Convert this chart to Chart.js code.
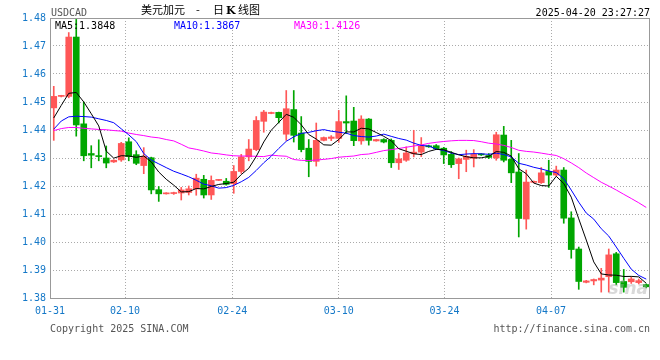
<!DOCTYPE html>
<html>
<head>
<meta charset="utf-8">
<script src="https://cdn.jsdelivr.net/npm/chart.js@4/dist/chart.umd.min.js"></script>
<style>
  html, body { margin: 0; padding: 0; background: #fff; }
</style>
</head>
<body>
<canvas id="myChart" width="660" height="360"></canvas>
<script>
// daily candles, USDCAD (oldest first)
const opens = [
  1.4479, 1.4520, 1.4520, 1.4732, 1.4422, 1.4316, 1.4308, 1.4300, 1.4286, 1.4293,
  1.4358, 1.4312, 1.4273, 1.4301, 1.4187, 1.4172, 1.4173, 1.4175, 1.4177, 1.4190,
  1.4224, 1.4168, 1.4220, 1.4217, 1.4208, 1.4252, 1.4304, 1.4330, 1.4431, 1.4459,
  1.4463, 1.4385, 1.4473, 1.4389, 1.4335, 1.4288, 1.4363, 1.4370, 1.4370, 1.4430,
  1.4432, 1.4361, 1.4439, 1.4361, 1.4366, 1.4363, 1.4283, 1.4292, 1.4315, 1.4321,
  1.4342, 1.4344, 1.4335, 1.4313, 1.4280, 1.4295, 1.4299, 1.4313, 1.4309, 1.4300,
  1.4382, 1.4295, 1.4250, 1.4082, 1.4213, 1.4212, 1.4252, 1.4239, 1.4257, 1.4086,
  1.3975, 1.3856, 1.3861, 1.3864, 1.3876, 1.3958, 1.3859, 1.3858, 1.3855, 1.3848
];
const highs = [
  1.4556, 1.4524, 1.4748, 1.4795, 1.4500, 1.4344, 1.4365, 1.4343, 1.4294, 1.4356,
  1.4372, 1.4326, 1.4337, 1.4303, 1.4198, 1.4176, 1.4178, 1.4195, 1.4200, 1.4242,
  1.4238, 1.4236, 1.4223, 1.4227, 1.4273, 1.4313, 1.4366, 1.4448, 1.4470, 1.4464,
  1.4464, 1.4541, 1.4541, 1.4448, 1.4366, 1.4425, 1.4375, 1.4380, 1.4470, 1.4522,
  1.4481, 1.4451, 1.4441, 1.4367, 1.4369, 1.4368, 1.4316, 1.4340, 1.4399, 1.4373,
  1.4346, 1.4348, 1.4338, 1.4323, 1.4300, 1.4328, 1.4330, 1.4316, 1.4316, 1.4392,
  1.4413, 1.4363, 1.4316, 1.4257, 1.4218, 1.4266, 1.4292, 1.4271, 1.4266, 1.4108,
  1.3982, 1.3863, 1.3868, 1.3906, 1.3975, 1.3963, 1.3902, 1.3875, 1.3868, 1.3850
];
const lows = [
  1.4363, 1.4518, 1.4515, 1.4378, 1.4290, 1.4265, 1.4290, 1.4265, 1.4284, 1.4288,
  1.4290, 1.4276, 1.4244, 1.4172, 1.4145, 1.4171, 1.4170, 1.4150, 1.4168, 1.4167,
  1.4157, 1.4152, 1.4219, 1.4203, 1.4174, 1.4245, 1.4290, 1.4326, 1.4392, 1.4458,
  1.4425, 1.4363, 1.4357, 1.4322, 1.4233, 1.4271, 1.4361, 1.4362, 1.4356, 1.4387,
  1.4344, 1.4349, 1.4346, 1.4360, 1.4354, 1.4266, 1.4259, 1.4288, 1.4304, 1.4305,
  1.4338, 1.4330, 1.4280, 1.4266, 1.4226, 1.4251, 1.4268, 1.4309, 1.4298, 1.4292,
  1.4286, 1.4212, 1.4018, 1.4046, 1.4211, 1.4209, 1.4195, 1.4235, 1.4067, 1.3942,
  1.3831, 1.3854, 1.3847, 1.3821, 1.3821, 1.3847, 1.3821, 1.3852, 1.3850, 1.3836
];
const closes = [
  1.4520, 1.4523, 1.4732, 1.4418, 1.4308, 1.4310, 1.4305, 1.4282, 1.4292, 1.4352,
  1.4305, 1.4281, 1.4306, 1.4186, 1.4172, 1.4175, 1.4176, 1.4186, 1.4190, 1.4228,
  1.4168, 1.4220, 1.4222, 1.4206, 1.4252, 1.4304, 1.4332, 1.4434, 1.4464, 1.4462,
  1.4444, 1.4476, 1.4381, 1.4330, 1.4288, 1.4363, 1.4373, 1.4375, 1.4430, 1.4425,
  1.4362, 1.4439, 1.4363, 1.4366, 1.4357, 1.4283, 1.4297, 1.4318, 1.4321, 1.4342,
  1.4340, 1.4333, 1.4311, 1.4276, 1.4297, 1.4306, 1.4313, 1.4311, 1.4302, 1.4383,
  1.4292, 1.4247, 1.4084, 1.4214, 1.4216, 1.4247, 1.4239, 1.4257, 1.4085, 1.3973,
  1.3859, 1.3861, 1.3866, 1.3871, 1.3954, 1.3855, 1.3838, 1.3868, 1.3862, 1.3840
];

// moving averages before enough closes exist
const ma5Start = [1.4443, 1.4488, 1.4531, 1.4534];
const ma10Start = [1.4403, 1.4432, 1.4447, 1.4449, 1.4448, 1.4446, 1.4440, 1.4434, 1.4426];
const ma30Start = [
  1.4398, 1.4405, 1.4409, 1.4409, 1.4406, 1.4404, 1.4402, 1.4401, 1.4398, 1.4396,
  1.4389, 1.4384, 1.4380, 1.4375, 1.4372, 1.4366, 1.4361, 1.4349, 1.4336, 1.4331,
  1.4325, 1.4318, 1.4315, 1.4311, 1.4308, 1.4307, 1.4307, 1.4306, 1.4305
];
const maLast = ["1.3848", "1.3867", "1.4126"];

// x axis labels and where they sit (in candle units)
const dateLabels = ["01-31", "02-10", "02-24", "03-10", "03-24", "04-07"];
const datePos = [-0.5, 9.5, 23.8, 38.0, 52.1, 66.3];

function movingAvg(n, early) {
  return closes.map((c, i) => {
    if (i < n - 1) return early[i];
    let s = 0;
    for (let k = i - n + 1; k <= i; k++) s += closes[k];
    return s / n;
  });
}

const ma5 = movingAvg(5, ma5Start);
const ma10 = movingAvg(10, ma10Start);
const ma30 = movingAvg(30, ma30Start);

const idx = closes.map((c, i) => i);
const candleColor = idx.map(i => closes[i] >= opens[i] ? "#ff5757" : "#00a600");
const mono = "'DejaVu Sans Mono', monospace";
const tickBlue = "#1478c8";

// frame and texts round the plot
const frame = {
  id: "frame",
  afterDraw(chart) {
    const { ctx, chartArea: a } = chart;
    ctx.save();
    ctx.strokeStyle = "#999";
    ctx.lineWidth = 1;
    ctx.strokeRect(a.left + 0.5, a.top + 0.5, a.right - a.left - 1, a.bottom - a.top);

    ctx.textBaseline = "alphabetic";
    ctx.font = "10px " + mono;
    ctx.fillStyle = "#555";
    ctx.textAlign = "left";
    ctx.fillText("USDCAD", 51, 16);
    ctx.fillStyle = "#000";
    ctx.textAlign = "right";
    ctx.fillText("2025-04-20 23:27:27", 650, 16);

    ctx.textAlign = "left";
    ctx.font = "11px 'Noto Sans CJK SC'";
    ctx.fillStyle = "#000";
    ctx.fillText("美元加元", 141, 14);
    ctx.fillText("-", 196, 14);
    ctx.fillText("日", 213, 14);
    ctx.font = "bold 11px 'DejaVu Serif'";
    ctx.fillText("K", 226, 14);
    ctx.font = "11px 'Noto Sans CJK SC'";
    ctx.fillText("线图", 238, 14);

    ctx.font = "10px " + mono;
    ctx.fillStyle = "#000";
    ctx.fillText("MA5:" + maLast[0], 55, 29);
    ctx.fillStyle = "#0000ff";
    ctx.fillText("MA10:" + maLast[1], 174, 29);
    ctx.fillStyle = "#ff00ff";
    ctx.fillText("MA30:" + maLast[2], 294, 29);

    ctx.fillStyle = "#555";
    ctx.fillText("Copyright 2025 SINA.COM", 50, 332);
    ctx.textAlign = "right";
    ctx.fillText("http://finance.sina.com.cn", 650, 332);

    // faint logo
    ctx.font = "italic bold 17px 'DejaVu Sans'";
    ctx.fillStyle = "rgba(170,170,170,0.45)";
    ctx.fillText("sina", 648, 294);
    ctx.restore();
  }
};

const config = {
  type: "bar",
  data: {
    datasets: [
      {
        type: "line", label: "MA5",
        data: idx.map(i => ({ x: i, y: ma5[i] })),
        borderColor: "#000", borderWidth: 1, pointRadius: 0, order: 0
      },
      {
        type: "line", label: "MA10",
        data: idx.map(i => ({ x: i, y: ma10[i] })),
        borderColor: "#0000ff", borderWidth: 1, pointRadius: 0, order: 0
      },
      {
        type: "line", label: "MA30",
        data: idx.map(i => ({ x: i, y: ma30[i] })),
        borderColor: "#ff00ff", borderWidth: 1, pointRadius: 0, order: 0
      },
      {
        label: "body",
        data: idx.map(i => ({ x: i, y: [opens[i], closes[i]] })),
        backgroundColor: candleColor,
        barThickness: 6, minBarLength: 1, grouped: false, order: 1
      },
      {
        label: "wick",
        data: idx.map(i => ({ x: i, y: [lows[i], highs[i]] })),
        backgroundColor: candleColor,
        barThickness: 1, grouped: false, order: 2
      }
    ]
  },
  options: {
    responsive: false,
    animation: false,
    layout: { padding: { top: 18, right: 10, left: 0, bottom: 0 } },
    plugins: {
      legend: { display: false },
      tooltip: { enabled: false }
    },
    scales: {
      x: {
        type: "linear",
        min: -0.5,
        max: 79.5,
        offset: false,
        afterBuildTicks: axis => { axis.ticks = datePos.map(v => ({ value: v })); },
        afterFit: axis => { axis.height = 62; },
        ticks: {
          autoSkip: false,
          maxRotation: 0,
          padding: 7,
          color: tickBlue,
          font: { family: mono, size: 10 },
          callback: (v, i) => dateLabels[i]
        },
        grid: { display: true, offset: false, drawTicks: false, color: "#aaa" },
        border: { display: false, dash: [1, 2] }
      },
      y: {
        min: 1.38,
        max: 1.48,
        afterFit: axis => { axis.width = 50; },
        ticks: {
          stepSize: 0.01,
          padding: 4,
          color: tickBlue,
          font: { family: mono, size: 10 },
          callback: v => v.toFixed(2)
        },
        grid: { drawTicks: false, color: "#aaa" },
        border: { display: false, dash: [1, 2] }
      }
    }
  },
  plugins: [frame]
};

const myChart = new Chart(document.getElementById("myChart"), config);
</script>
</body>
</html>
